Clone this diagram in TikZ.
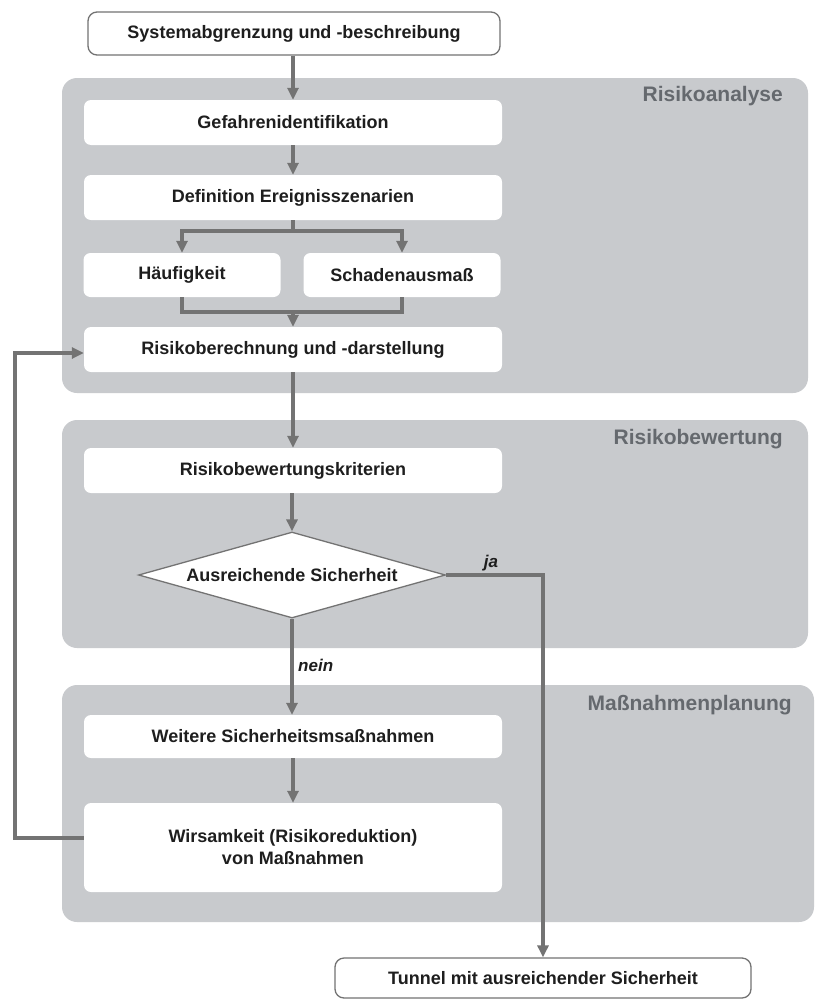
\documentclass[tikz,border=0pt]{standalone}
\usepackage{fontspec}
\setmainfont{Liberation Sans}
\usetikzlibrary{arrows.meta,shapes.geometric}
\definecolor{panelgray}{HTML}{C8CACD}
\definecolor{linegray}{HTML}{737373}
\definecolor{labelgray}{HTML}{65696E}
\definecolor{textdark}{HTML}{1E1E1E}
\tikzset{
  panel/.style={fill=panelgray, rounded corners=15pt},
  wbox/.style={fill=white, rounded corners=7pt, inner sep=0pt, text=textdark,
    font=\bfseries\fontsize{18}{22}\selectfont, align=center},
  tbox/.style={wbox, draw=linegray, line width=1.3pt, rounded corners=9pt},
  conn/.style={draw=linegray, line width=3.2pt},
  arr/.style={conn, -{Triangle[length=12pt,width=11pt]}},
  plabel/.style={font=\bfseries\fontsize{21}{25}\selectfont, text=labelgray, anchor=east, inner sep=0pt},
  yn/.style={font=\bfseries\itshape\fontsize{17}{20}\selectfont, text=textdark, inner sep=0pt}
}
\begin{document}
\begin{tikzpicture}[x=1pt,y=-1pt]
\useasboundingbox (0,0) rectangle (821,1001);
\fill[white] (0,0) rectangle (821,1001);
% panels
\fill[panel] (62,78) rectangle (808,393);
\fill[panel] (62,420) rectangle (808,648);
\fill[panel] (62,685) rectangle (814,922);
\node[plabel] (l1) at (783,96) {Risikoanalyse};
\node[plabel] (l2) at (783,439) {Risikobewertung};
\node[plabel] (l3) at (792,705) {Maßnahmenplanung};
% nodes
\node[tbox, minimum width=412pt, minimum height=43pt] (top) at (294,33.5) {Systemabgrenzung und -beschreibung};
\node[wbox, minimum width=418pt, minimum height=45pt] (gef) at (293,122.5) {Gefahrenidentifikation};
\node[wbox, minimum width=418pt, minimum height=45pt] (def) at (293,197.5) {Definition Ereignisszenarien};
\node[wbox, minimum width=197pt, minimum height=44pt] (hf) at (182,275) {Häufigkeit};
\node[wbox, minimum width=197pt, minimum height=44pt] (sa) at (402,275) {Schadenausmaß};
\node[wbox, minimum width=418pt, minimum height=45pt] (rb) at (293,349.5) {Risikoberechnung und -darstellung};
\node[wbox, minimum width=418pt, minimum height=45pt] (rk) at (293,470.5) {Risikobewertungskriterien};
\node[diamond, aspect=3.57, fill=white, draw=linegray, line width=1.3pt, inner sep=0pt,
      minimum width=307pt, minimum height=86pt, text=textdark,
      font=\bfseries\fontsize{18}{22}\selectfont] (dia) at (292,575) {Ausreichende Sicherheit};
\node[wbox, minimum width=418pt, minimum height=43pt] (wei) at (293,736.5) {Weitere Sicherheitsmsaßnahmen};
\node[wbox, minimum width=418pt, minimum height=89pt] (wm) at (293,847.5) {Wirsamkeit (Risikoreduktion)\\von Maßnahmen};
\node[tbox, minimum width=416pt, minimum height=40pt] (tun) at (543,978) {Tunnel mit ausreichender Sicherheit};
% labels
\node[yn] (ja) at (491,563) {ja};
\node[yn, anchor=west] (nein) at (298,665) {nein};
% coordinates
\coordinate (split) at (293,231);
\coordinate (merge) at (293,312);
\coordinate (fb1) at (15,838);
\coordinate (fb2) at (15,353);
% connectors
\draw[arr] (top.south -| gef.north) -- (gef.north);
\draw[arr] (gef) -- (def);
\draw[conn] (def.south) -- (split);
\draw[arr] (split) -| (hf.north);
\draw[arr] (split) -| (sa.north);
\draw[conn] (hf.south) |- (merge);
\draw[conn] (sa.south) |- (merge);
\draw[arr] (merge) -- (rb.north);
\draw[arr] (rb) -- (rk);
\draw[arr] (rk.south -| dia.north) -- (dia.north);
\draw[arr] (dia.south) -- (dia.south |- wei.north);
\draw[arr] (wei.south) -- (wm.north);
\draw[arr] (wm.west |- fb1) -- (fb1) -- (fb2) -- (fb2 -| rb.west);
\draw[arr] (dia.east) -| (tun.north);
\end{tikzpicture}
\end{document}
